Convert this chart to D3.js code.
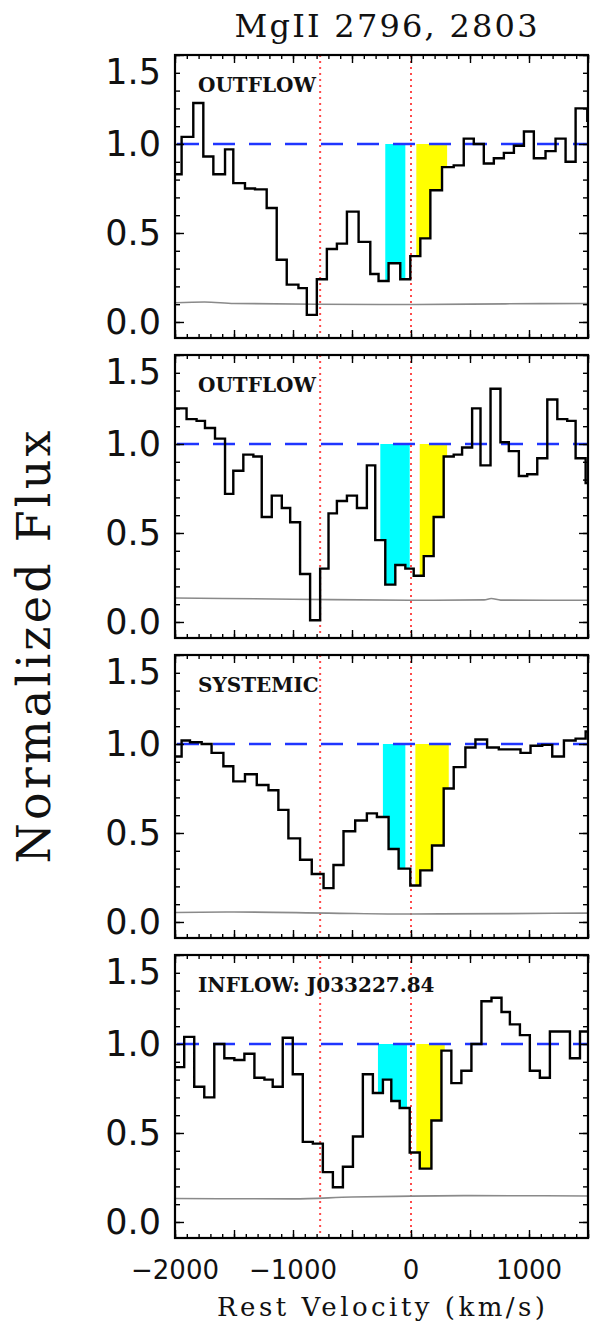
<!DOCTYPE html>
<html>
<head>
<meta charset="utf-8">
<script src="https://cdn.jsdelivr.net/npm/d3@7"></script>
<style>
  body { margin: 0; background: #fff; }
  .tick line { stroke: #000; stroke-width: 1.4; }
</style>
</head>
<body>
<svg id="chart" width="590" height="1323"></svg>
<script>
// velocity bin edges (km/s) and normalized flux per bin, one set per panel
var p1Edges = [-2030, -1944, -1845, -1760, -1675, -1576, -1506, -1407, -1322, -1223, -1138, -1053, -954, -883, -798, -713, -628, -543, -444, -345, -275, -190, -91, -6, 79, 164, 263, 362, 447, 532, 617, 702, 787, 872, 957, 1041, 1140, 1225, 1310, 1395, 1494, 1580];
var p1Flux  = [0.83, 1.04, 1.23, 0.93, 0.83, 0.97, 0.78, 0.75, 0.745, 0.64, 0.35, 0.21, 0.19, 0.04, 0.24, 0.41, 0.44, 0.62, 0.45, 0.27, 0.23, 0.33, 0.24, 0.37, 0.47, 0.74, 0.87, 0.88, 1.03, 1.00, 0.89, 0.92, 0.95, 0.99, 1.07, 0.92, 0.96, 1.03, 0.90, 1.20, 1.13];

var p2Edges = [-2010, -1902, -1817, -1746, -1661, -1576, -1506, -1421, -1336, -1265, -1180, -1095, -1024, -940, -855, -770, -699, -628, -543, -458, -374, -303, -218, -133, -48, 23, 108, 192, 277, 362, 433, 518, 589, 674, 758, 829, 914, 985, 1070, 1155, 1240, 1324, 1395, 1480, 1560];
var p2Flux  = [1.20, 1.14, 1.13, 1.09, 1.03, 0.72, 0.85, 0.94, 0.93, 0.59, 0.71, 0.64, 0.56, 0.27, 0.01, 0.30, 0.61, 0.68, 0.71, 0.64, 0.88, 0.46, 0.21, 0.32, 0.30, 0.26, 0.37, 0.59, 0.93, 0.94, 0.98, 1.20, 0.88, 1.31, 1.01, 0.96, 0.82, 0.83, 0.92, 1.25, 1.14, 1.13, 0.92, 0.78];

var p3Edges = [-2030, -1944, -1873, -1774, -1690, -1590, -1506, -1407, -1307, -1208, -1124, -1039, -940, -841, -741, -657, -572, -473, -374, -289, -190, -105, -6, 79, 178, 277, 362, 461, 546, 645, 744, 829, 928, 1013, 1112, 1197, 1296, 1395, 1480, 1570];
var p3Flux  = [0.93, 1.02, 1.01, 1.00, 0.95, 0.875, 0.79, 0.83, 0.77, 0.74, 0.63, 0.47, 0.35, 0.27, 0.19, 0.32, 0.51, 0.57, 0.61, 0.59, 0.41, 0.30, 0.205, 0.29, 0.43, 0.75, 0.87, 0.98, 1.025, 0.98, 0.97, 0.97, 0.95, 0.99, 0.995, 0.93, 1.02, 1.03, 1.07];

var p4Edges = [-2010, -1922, -1837, -1752, -1667, -1582, -1497, -1412, -1327, -1242, -1172, -1087, -1002, -917, -832, -747, -662, -577, -492, -408, -323, -238, -167, -96, -11, 74, 173, 258, 342, 427, 512, 597, 682, 767, 838, 923, 1007, 1092, 1177, 1262, 1347, 1432, 1520];
var p4Flux  = [0.87, 1.04, 0.76, 0.70, 1.00, 0.92, 0.91, 0.945, 0.81, 0.80, 0.76, 1.035, 0.83, 0.45, 0.44, 0.28, 0.195, 0.31, 0.48, 0.83, 0.725, 0.80, 0.68, 0.64, 0.39, 0.30, 0.57, 0.963, 0.78, 0.85, 1.00, 1.24, 1.26, 1.18, 1.11, 1.05, 0.85, 0.81, 1.07, 1.07, 0.92, 1.07];

// error spectra (grey), sampled at a few velocities
var p1ErrV = [-2000, -1750, -1500, -800, 0, 800, 1500];
var p1Err  = [0.108, 0.112, 0.104, 0.100, 0.098, 0.102, 0.104];
var p2ErrV = [-2000, -1000, 0, 620, 680, 760, 1500];
var p2Err  = [0.135, 0.128, 0.122, 0.124, 0.132, 0.123, 0.122];
var p3ErrV = [-2000, -1500, -700, 0, 800, 1500];
var p3Err  = [0.053, 0.056, 0.050, 0.045, 0.047, 0.050];
var p4ErrV = [-2000, -1000, -500, 0, 500, 1500];
var p4Err  = [0.132, 0.130, 0.140, 0.145, 0.148, 0.146];

// shaded velocity windows
var p1Cyan = [-218, -48],  p1Yellow = [45, 306];
var p2Cyan = [-260, -11],  p2Yellow = [74, 306];
var p3Cyan = [-238, -48],  p3Yellow = [37, 320];
var p4Cyan = [-280, -34],  p4Yellow = [45, 286];

var panelLabels = ["OUTFLOW", "OUTFLOW", "SYSTEMIC", "INFLOW: J033227.84"];
var markerVels = [-770, 0];          // MgII 2803 and 2796
var xTickVals = [-2000, -1000, 0, 1000];
var yTickVals = [0, 0.5, 1.0, 1.5];

var panels = [
  {edges: p1Edges, flux: p1Flux, errV: p1ErrV, err: p1Err, cyan: p1Cyan, yellow: p1Yellow},
  {edges: p2Edges, flux: p2Flux, errV: p2ErrV, err: p2Err, cyan: p2Cyan, yellow: p2Yellow},
  {edges: p3Edges, flux: p3Flux, errV: p3ErrV, err: p3Err, cyan: p3Cyan, yellow: p3Yellow},
  {edges: p4Edges, flux: p4Flux, errV: p4ErrV, err: p4Err, cyan: p4Cyan, yellow: p4Yellow}
];

// layout
var left = 175, right = 588, top0 = 55, panelH = 283, step = 300;

var svg = d3.select("#chart");
svg.append("rect").attr("width", 590).attr("height", 1323).attr("fill", "#fff");

var x = d3.scaleLinear().domain([-2000, 1500]).range([left, right]);

// step points clipped to a velocity window
function windowSteps(p, lo, hi) {
  var pts = [];
  for (var i = 0; i < p.flux.length; i++) {
    var a = Math.max(p.edges[i], lo), b = Math.min(p.edges[i + 1], hi);
    if (b > a) { pts.push([a, p.flux[i]]); pts.push([b, p.flux[i]]); }
  }
  return pts;
}

panels.forEach(function(p, k) {
  var top = top0 + k * step;
  var y = d3.scaleLinear().domain([-0.09, 1.5]).range([top + panelH, top]);

  var g = svg.append("g");
  g.append("clipPath").attr("id", "clip" + k)
    .append("rect").attr("x", left).attr("y", top).attr("width", right - left).attr("height", panelH);
  var inner = g.append("g").attr("clip-path", "url(#clip" + k + ")");

  var area = d3.area()
    .x(function(d) { return x(d[0]); })
    .y0(y(1))
    .y1(function(d) { return y(d[1]); });

  inner.append("path").attr("d", area(windowSteps(p, p.cyan[0], p.cyan[1])))
    .attr("fill", "#00ffff");
  inner.append("path").attr("d", area(windowSteps(p, p.yellow[0], p.yellow[1])))
    .attr("fill", "#ffff00");

  // continuum
  inner.append("line")
    .attr("x1", left).attr("x2", right).attr("y1", y(1)).attr("y2", y(1))
    .attr("stroke", "#1f35ff").attr("stroke-width", 2.5)
    .attr("stroke-dasharray", "22,14").attr("stroke-dashoffset", -2);

  // line positions
  inner.selectAll(".marker").data(markerVels).enter().append("line")
    .attr("x1", function(d) { return x(d); }).attr("x2", function(d) { return x(d); })
    .attr("y1", top).attr("y2", top + panelH)
    .attr("stroke", "#ff4a4a").attr("stroke-width", 2)
    .attr("stroke-dasharray", "2,4");

  // error spectrum
  var errLine = d3.line()
    .x(function(d, i) { return x(p.errV[i]); })
    .y(function(d) { return y(d); })
    .curve(d3.curveMonotoneX);
  inner.append("path").attr("d", errLine(p.err))
    .attr("fill", "none").attr("stroke", "#8a8a8a").attr("stroke-width", 1.6);

  // flux histogram
  var pts = p.edges.map(function(e, i) { return [e, p.flux[Math.min(i, p.flux.length - 1)]]; });
  var fluxLine = d3.line()
    .x(function(d) { return x(d[0]); })
    .y(function(d) { return y(d[1]); })
    .curve(d3.curveStepAfter);
  inner.append("path").attr("d", fluxLine(pts))
    .attr("fill", "none").attr("stroke", "#000").attr("stroke-width", 2.4);

  // ticks on all four sides, pointing inward
  var xMinor = x.ticks(35), xMajor = x.ticks(7);
  var yMinor = d3.range(0, 16).map(function(i) { return i / 10; });
  function addAxis(axis, tx, ty) {
    var a = g.append("g").attr("transform", "translate(" + tx + "," + ty + ")").call(axis);
    a.select(".domain").remove();
    a.selectAll("text").remove();
  }
  addAxis(d3.axisBottom(x).tickValues(xMinor).tickSize(-4), 0, top + panelH);
  addAxis(d3.axisBottom(x).tickValues(xMajor).tickSize(-8), 0, top + panelH);
  addAxis(d3.axisTop(x).tickValues(xMinor).tickSize(-4), 0, top);
  addAxis(d3.axisTop(x).tickValues(xMajor).tickSize(-8), 0, top);
  addAxis(d3.axisLeft(y).tickValues(yMinor).tickSize(-5), left, 0);
  addAxis(d3.axisLeft(y).tickValues(yTickVals).tickSize(-9), left, 0);
  addAxis(d3.axisRight(y).tickValues(yMinor).tickSize(-5), right, 0);
  addAxis(d3.axisRight(y).tickValues(yTickVals).tickSize(-9), right, 0);

  g.append("rect")
    .attr("x", left).attr("y", top).attr("width", right - left).attr("height", panelH)
    .attr("fill", "none").attr("stroke", "#000").attr("stroke-width", 2.2);

  // y tick labels (top label kept inside the frame like the original)
  g.selectAll(".ylab").data(yTickVals).enter().append("text")
    .attr("x", 161)
    .attr("y", function(d) { return Math.max(y(d), top + 16) + 12.5; })
    .attr("text-anchor", "end")
    .attr("font-family", "DejaVu Sans")
    .attr("font-size", 35)
    .attr("fill", "#111")
    .text(function(d) { return d3.format(".1f")(d); });

  g.append("text")
    .attr("x", 198).attr("y", top + 37)
    .attr("font-family", "DejaVu Serif")
    .attr("font-weight", "bold")
    .attr("font-size", 20)
    .attr("fill", "#111")
    .text(panelLabels[k]);
});

// bottom x labels
var bottom = top0 + 3 * step + panelH;
svg.selectAll(".xlab").data(xTickVals).enter().append("text")
  .attr("x", function(d) { return x(d); })
  .attr("y", bottom + 41)
  .attr("text-anchor", "middle")
  .attr("font-family", "DejaVu Sans")
  .attr("font-size", 26)
  .attr("fill", "#111")
  .text(function(d) { return d < 0 ? "\u2212" + Math.abs(d) : d; });

svg.append("text")
  .attr("x", 381).attr("y", 1316)
  .attr("text-anchor", "middle")
  .attr("font-family", "DejaVu Serif")
  .attr("font-size", 26)
  .attr("textLength", 328)
  .attr("lengthAdjust", "spacing")
  .attr("fill", "#111")
  .text("Rest Velocity (km/s)");

svg.append("text")
  .attr("x", 386).attr("y", 37)
  .attr("text-anchor", "middle")
  .attr("font-family", "DejaVu Serif")
  .attr("font-size", 32)
  .attr("textLength", 303)
  .attr("lengthAdjust", "spacing")
  .attr("fill", "#111")
  .text("MgII 2796, 2803");

svg.append("text")
  .attr("transform", "translate(50,647) rotate(-90)")
  .attr("text-anchor", "middle")
  .attr("font-family", "DejaVu Serif")
  .attr("font-size", 46)
  .attr("textLength", 433)
  .attr("lengthAdjust", "spacing")
  .attr("fill", "#111")
  .text("Normalized Flux");
</script>
</body>
</html>
